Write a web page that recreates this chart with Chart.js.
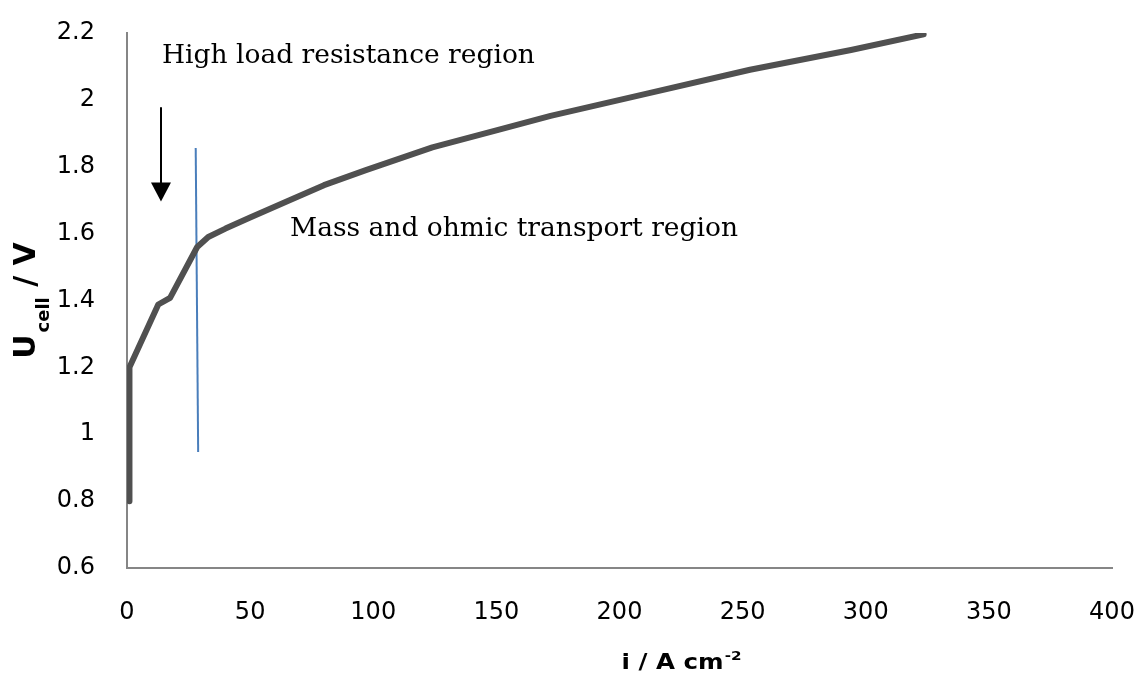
<!DOCTYPE html>
<html>
<head>
<meta charset="utf-8">
<script src="https://cdn.jsdelivr.net/npm/chart.js"></script>
<style>
  body { margin: 0; background: #fff; }
  #wrap { width: 1145px; height: 676px; }
</style>
</head>
<body>
<div id="wrap"><canvas id="polCurve" width="1145" height="676"></canvas></div>
<script>
// polarisation curve
const currentDensity = [1, 1, 12.7, 17.5, 28.5, 33, 40, 50, 66, 80, 97, 124, 151.5, 172, 212, 253, 294, 323.5];
const cellVoltage    = [0.8, 1.2, 1.388, 1.408, 1.56, 1.59, 1.615, 1.648, 1.70, 1.745, 1.79, 1.858, 1.912, 1.952, 2.02, 2.09, 2.149, 2.196];

// blue divider line (two ends)
const dividerX = [27.9, 28.9];
const dividerY = [1.856, 0.947];

// arrow + notes, in data units
const arrowX = 13.8, arrowFrom = 1.978, arrowTo = 1.696;
const notes = [
  { text: 'High load resistance region', x: 14.2, y: 2.11 },
  { text: 'Mass and ohmic transport region', x: 66.2, y: 1.592 }
];

const xTicks = [0, 50, 100, 150, 200, 250, 300, 350, 400];
const yTicks = [0.6, 0.8, 1, 1.2, 1.4, 1.6, 1.8, 2, 2.2];

const axisGrey = '#868686';

// draw a run of text pieces (for sub/superscripts), optionally squeezed to a width
function richText(ctx, parts, x, y, width) {
  let total = 0;
  parts.forEach(p => { ctx.font = p.font; p.w = ctx.measureText(p.text).width; total += p.w + (p.gap || 0); });
  const sx = width ? width / total : 1;
  ctx.save();
  ctx.translate(x - (total * sx) / 2, y);
  ctx.scale(sx, 1);
  let px = 0;
  parts.forEach(p => {
    ctx.font = p.font;
    px += p.gap || 0;
    ctx.fillText(p.text, px, p.dy || 0);
    px += p.w;
  });
  ctx.restore();
}

const annotate = {
  id: 'annotate',
  afterDatasetsDraw(chart) {
    const { ctx, scales: { x, y }, chartArea } = chart;
    ctx.save();

    // arrow
    const ax = x.getPixelForValue(arrowX);
    const y0 = y.getPixelForValue(arrowFrom);
    const y1 = y.getPixelForValue(arrowTo);
    ctx.strokeStyle = '#000';
    ctx.fillStyle = '#000';
    ctx.lineWidth = 2;
    ctx.beginPath();
    ctx.moveTo(ax, y0);
    ctx.lineTo(ax, y1 - 16);
    ctx.stroke();
    ctx.beginPath();
    ctx.moveTo(ax - 10, y1 - 19);
    ctx.lineTo(ax + 10, y1 - 19);
    ctx.lineTo(ax, y1);
    ctx.closePath();
    ctx.fill();

    // notes
    ctx.font = '26.5px "DejaVu Serif"';
    ctx.textAlign = 'left';
    ctx.textBaseline = 'alphabetic';
    notes.forEach(n => {
      ctx.fillText(n.text, x.getPixelForValue(n.x), y.getPixelForValue(n.y));
    });

    // x title: i / A cm^-2
    richText(ctx, [
      { text: 'i / A cm', font: 'bold 21px "DejaVu Sans"' },
      { text: '-2', font: 'bold 13px "DejaVu Sans"', dy: -9, gap: 1 }
    ], (chartArea.left + chartArea.right) / 2 + 62, 669, 120);

    // y title: U_cell / V, rotated
    ctx.save();
    ctx.translate(35, (chartArea.top + chartArea.bottom) / 2);
    ctx.rotate(-Math.PI / 2);
    richText(ctx, [
      { text: 'U', font: 'bold 30px "DejaVu Sans"' },
      { text: 'cell', font: 'bold 18px "DejaVu Sans"', dy: 14, gap: 2 },
      { text: ' / V', font: 'bold 30px "DejaVu Sans"' }
    ], 0, 0);
    ctx.restore();

    ctx.restore();
  }
};

new Chart(document.getElementById('polCurve').getContext('2d'), {
  type: 'scatter',
  data: {
    datasets: [
      {
        label: 'U_cell',
        data: currentDensity.map((v, i) => ({ x: v, y: cellVoltage[i] })),
        showLine: true,
        borderColor: '#505050',
        borderWidth: 6,
        borderCapStyle: 'round',
        borderJoinStyle: 'round',
        pointRadius: 0,
        tension: 0
      },
      {
        label: 'divider',
        data: dividerX.map((v, i) => ({ x: v, y: dividerY[i] })),
        showLine: true,
        borderColor: '#4a7ebb',
        borderWidth: 2,
        pointRadius: 0
      }
    ]
  },
  options: {
    responsive: false,
    animation: false,
    layout: { padding: { top: 33, right: 33, left: 0, bottom: 0 } },
    plugins: { legend: { display: false }, tooltip: { enabled: false } },
    scales: {
      x: {
        type: 'linear',
        min: 0, max: 400,
        afterBuildTicks: s => { s.ticks = xTicks.map(v => ({ value: v })); },
        afterFit: s => { s.height = 108; s.paddingLeft = 0; s.paddingRight = 0; },
        grid: { display: false, drawTicks: false },
        border: { display: true, color: axisGrey, width: 2 },
        ticks: { color: '#000', padding: 30, font: { family: 'DejaVu Sans', size: 24 } }
      },
      y: {
        min: 0.6, max: 2.2,
        afterBuildTicks: s => { s.ticks = yTicks.map(v => ({ value: v })); },
        afterFit: s => { s.width = 127; s.paddingTop = 0; s.paddingBottom = 0; },
        grid: { display: false, drawTicks: false },
        border: { display: true, color: axisGrey, width: 2 },
        ticks: {
          color: '#000', padding: 32, font: { family: 'DejaVu Sans', size: 24 },
          callback: v => String(Number(v.toFixed(1)))
        }
      }
    }
  },
  plugins: [annotate]
});
</script>
</body>
</html>
